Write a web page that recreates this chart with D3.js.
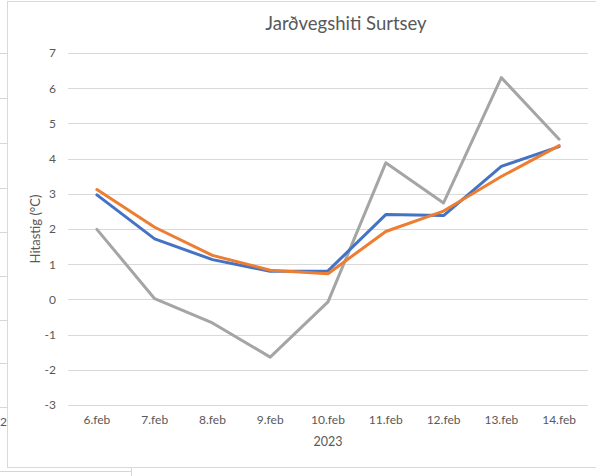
<!DOCTYPE html>
<html><head><meta charset="utf-8">
<script src="https://cdn.jsdelivr.net/npm/d3@7"></script>
<style>body{margin:0;background:#fff;}svg{display:block;font-family:Lato,"Open Sans",sans-serif;}</style>
</head><body>
<svg id="c" width="596" height="476"></svg>
<script>
const categories = ["6.feb","7.feb","8.feb","9.feb","10.feb","11.feb","12.feb","13.feb","14.feb"];
const seriesBlue = [2.97,1.72,1.13,0.80,0.81,2.41,2.38,3.78,4.34];
const seriesOrange = [3.12,2.05,1.25,0.83,0.73,1.93,2.51,3.49,4.37];
const seriesGray = [1.99,0.02,-0.67,-1.64,-0.07,3.88,2.74,6.30,4.55];
const yTicks = [-3,-2,-1,0,1,2,3,4,5,6,7];
const title = "Jarðvegshiti Surtsey";
const yTitle = "Hitastig (°C)";
const xTitle = "2023";

const svg = d3.select("#c");
// spreadsheet background fragments
const bg = svg.append("g").attr("stroke","#d6d6d6").attr("stroke-width",1);
[53,98,143,188,232,276,320,363,407].forEach(y=>bg.append("line").attr("x1",0).attr("x2",7).attr("y1",y+0.5).attr("y2",y+0.5));
bg.append("line").attr("x1",0).attr("x2",131).attr("y1",471.5).attr("y2",471.5);
bg.append("line").attr("x1",131.5).attr("x2",131.5).attr("y1",468).attr("y2",476);
svg.append("text").attr("x",0).attr("y",426).attr("font-size",12).attr("fill","#595959").text("20");
// chart area
svg.append("rect").attr("x",7.5).attr("y",1.5).attr("width",600).attr("height",466).attr("fill","#fff").attr("stroke","#d9d9d9");

const x = d3.scaleBand().domain(categories).range([68,588]);
const y = d3.scaleLinear().domain([-3,7]).range([405,53]);

const grid = svg.append("g");
grid.selectAll("line").data(yTicks).join("line")
  .attr("x1",68).attr("x2",588)
  .attr("y1",d=>Math.round(y(d))+0.5).attr("y2",d=>Math.round(y(d))+0.5)
  .attr("stroke","#d9d9d9").attr("stroke-width",1);

const yAxis = svg.append("g").attr("transform","translate(62,0)")
  .call(d3.axisLeft(y).tickValues(yTicks).tickSize(0).tickPadding(0).tickFormat(d=>String(d)));
yAxis.select(".domain").remove();
yAxis.selectAll("text").attr("font-size",12).attr("fill","#595959").attr("font-family","Lato,sans-serif").attr("dx","-6");

const xAxis = svg.append("g").attr("transform","translate(0,405)")
  .call(d3.axisBottom(x).tickSize(0).tickPadding(10));
xAxis.select(".domain").remove();
xAxis.selectAll("text").attr("font-size",12).attr("fill","#595959").attr("font-family","Lato,sans-serif");

const line = d3.line().x((d,i)=>x(categories[i])+x.bandwidth()/2).y(d=>y(d));
[[seriesGray,"#A5A5A5"],[seriesBlue,"#4472C4"],[seriesOrange,"#ED7D31"]].forEach(([s,c])=>{
  svg.append("path").datum(s).attr("d",line).attr("fill","none").attr("stroke",c)
    .attr("stroke-width",3).attr("stroke-linejoin","round").attr("stroke-linecap","round");
});

svg.append("text").attr("x",346).attr("y",30).attr("text-anchor","middle").attr("font-size",18.5).attr("fill","#595959").text(title);
svg.append("text").attr("x",328).attr("y",446).attr("text-anchor","middle").attr("font-size",12.5).attr("fill","#595959").text(xTitle);
svg.append("text").attr("transform","translate(40,229) rotate(-90)").attr("text-anchor","middle").attr("font-size",13).attr("fill","#595959").text(yTitle);
</script>
</body></html>
